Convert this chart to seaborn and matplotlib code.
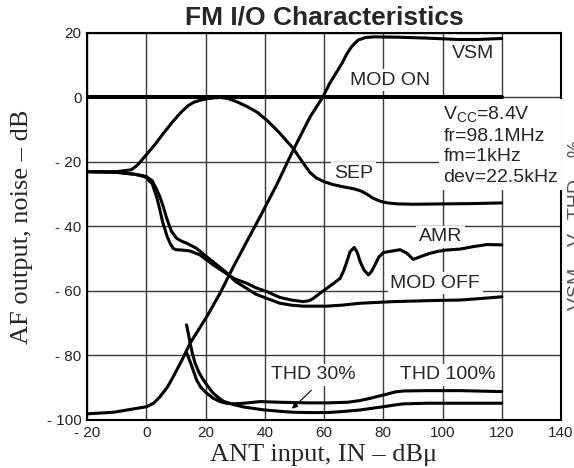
import matplotlib
matplotlib.use("Agg")
import matplotlib.pyplot as plt
import seaborn as sns

# values (x = ANT input dBu, y = dB)
mod_on_x = [-20, 120]
mod_on_y = [0, 0]

vsm_x = [-20, -11, 0, 2.5, 4.6, 7, 9.1, 12, 14.8, 20.4, 24.9, 29.4, 33.9, 38.4, 44, 49.6,
         55.3, 59.5, 62, 64, 66, 67.7, 69.5, 71.5, 74, 77, 85, 95, 105, 112, 120]
vsm_y = [-98.1, -97.6, -95.9, -94.8, -92.8, -90, -86.6, -81.5, -76.2, -68, -60.7, -52.5,
         -44.7, -37, -27.1, -16.3, -6, 0, 4.5, 7.5, 10.5, 13.5, 16, 17.8, 18.6, 18.8, 18.7,
         18.4, 18.0, 18.0, 18.3]

sep_x = [-20, -10, -5, -3, 0, 3, 5.8, 8.5, 11.4, 14, 16, 18, 20.5, 23, 25, 27.5, 30.5, 34,
         37.5, 41, 45, 49.6, 52.5, 55.3, 57.5, 60, 63, 66.5, 70, 72.5, 74.5, 76.5, 79, 81.5,
         85, 90, 100, 110, 120]
sep_y = [-23, -23, -22.4, -21, -17.8, -14.5, -11.1, -8, -4.9, -2.6, -1.5, -0.9, -0.4, -0.1,
         0, -0.3, -1.3, -2.8, -4.6, -7.3, -11, -15.8, -19.7, -23.3, -25, -26.1, -27, -27.7,
         -28.3, -29, -30, -31.2, -32.2, -32.7, -33, -33.1, -33, -32.9, -32.7]

amr_x = [-20, -10, -4, -2, 0, 2, 3.5, 4.5, 5.5, 7, 8.2, 9.1, 10, 12, 14.8, 18.1, 22.6, 27.2,
         30, 33.9, 37, 40.7, 45.1, 49, 53, 55, 56.4, 58.5, 60.9, 63, 65.4, 66.5, 67.5, 68.8,
         70.2, 71.2, 72.2, 73.5, 75, 76, 77.2, 78.5, 80, 83, 85.7, 88, 90.1, 93, 95.8, 98.5,
         101.4, 106, 110, 115, 120]
amr_y = [-23, -23.2, -23.8, -24.2, -24.8, -26.8, -30.8, -34.5, -38.5, -43, -45.5, -46.8,
         -47.2, -47.3, -47.6, -48.8, -51.9, -54.7, -56.3, -57.6, -59, -60.2, -62, -62.8,
         -63.3, -63, -62.3, -60.8, -59.2, -57.8, -56.1, -54, -51.5, -47.8, -46.5, -48, -50.9,
         -53.5, -55, -54, -51.9, -49.5, -48.1, -47.6, -47.2, -48.3, -50.2, -49.2, -48.3,
         -47.7, -47.3, -47, -46.3, -45.6, -45.7]

mod_off_x = [-20, -10, -4, -2, 0, 2, 3.5, 4.6, 5.8, 6.9, 8.5, 10.3, 12, 13.7, 17, 20.4, 24,
             27.2, 30, 33.9, 37, 40.7, 45.1, 49, 53, 60.9, 66, 72.2, 83.4, 95, 100, 106, 112,
             120]
mod_off_y = [-23, -23.2, -23.8, -24.1, -24.5, -25.8, -28.5, -30.8, -34, -37.5, -41.5, -43.7,
             -44.6, -45.2, -46.8, -49.4, -52, -54.4, -57, -59.2, -61, -62.3, -63.8, -64.4,
             -64.7, -64.7, -64.4, -63.8, -63.3, -63, -62.9, -62.8, -62.4, -61.8]

thd30_x = [13.6, 14.2, 14.8, 15.6, 16.5, 17.8, 19.3, 21, 22.6, 24.3, 26, 29.4, 33, 36.1, 40,
           45.1, 49.6, 55, 60.9, 66, 72.2, 76, 80, 83.5, 86.8, 95, 105.9, 120]
thd30_y = [-70.5, -73.2, -76.2, -79.5, -82.4, -85.3, -87.6, -89.8, -91.7, -93, -94.2, -95.2,
           -96, -96.4, -96.9, -97.3, -97.6, -97.7, -97.7, -97.4, -96.9, -96.4, -95.9, -95.4,
           -95, -94.8, -94.8, -94.8]

thd100_x = [13.6, 14.2, 14.8, 16, 17, 18.5, 20.4, 22.5, 24.9, 27, 29.4, 33, 38.4, 45, 55,
            60.9, 68, 72, 75.5, 78.5, 81.2, 84, 86.8, 95, 105.9, 120]
thd100_y = [-79.1, -80.5, -81.9, -85, -87.6, -90, -91.7, -93.2, -94.3, -94.8, -95, -94.8,
            -94.3, -94.5, -94.7, -94.7, -94.5, -94, -93.3, -92.6, -92, -91.3, -91, -90.9,
            -90.9, -91.2]

x_ticks = [-20, 0, 20, 40, 60, 80, 100, 120, 140]
x_tick_labels = ["- 20", "0", "20", "40", "60", "80", "100", "120", "140"]
y_ticks = [-100, -80, -60, -40, -20, 0, 20]
y_tick_labels = ["- 100", "- 80", "- 60", "- 40", "- 20", "0", "20"]

sns.set_style("white")
plt.rcParams['font.family'] = ['Liberation Sans', 'DejaVu Sans']
plt.rcParams['mathtext.fontset'] = 'custom'
plt.rcParams['mathtext.rm'] = 'Liberation Sans'

fig, ax = plt.subplots(figsize=(5.74, 4.68), dpi=100)
fig.subplots_adjust(left=0.1516, right=0.9774, top=0.9295, bottom=0.1026)

curves = [
    (vsm_x, vsm_y, 2.2),
    (sep_x, sep_y, 2.2),
    (amr_x, amr_y, 2.2),
    (mod_off_x, mod_off_y, 2.2),
    (thd30_x, thd30_y, 2.2),
    (thd100_x, thd100_y, 2.2),
    (mod_on_x, mod_on_y, 2.9),
]
for xs, ys, lw in curves:
    sns.lineplot(x=xs, y=ys, ax=ax, color="black", linewidth=lw, sort=False,
                 estimator=None, zorder=4)

ax.set_xlim(-20, 140)
ax.set_ylim(-100, 20)
ax.set_xticks(x_ticks)
ax.set_xticklabels(x_tick_labels)
ax.set_yticks(y_ticks)
ax.set_yticklabels(y_tick_labels)
ax.tick_params(length=0, labelsize=11, pad=4)
ax.grid(True, color="#3a3a3a", linewidth=1.0)
ax.set_axisbelow(True)
for s in ax.spines.values():
    s.set_color("black")
    s.set_linewidth(1.5)

ax.set_title("FM I/O Characteristics", fontsize=19, fontweight="bold", pad=6)
ax.set_xlabel("ANT input, IN – dBμ", fontsize=19, family="Liberation Serif")
ax.set_ylabel("AF output, noise – dB", fontsize=19, family="Liberation Serif")
ax.xaxis.set_label_coords(0.5, -0.062)
ax.yaxis.set_label_coords(-0.115, 0.5)

box = dict(facecolor="white", edgecolor="none", pad=2)
lab = dict(fontsize=14, ha="center", va="center", bbox=box, zorder=3)
ax.text(110.4, 13.7, "VSM", **lab)
ax.text(82.3, 5.4, "MOD ON", **lab)
ax.text(69.9, -23.5, "SEP", **lab)
ax.text(99.2, -43.2, "AMR", **lab)
ax.text(97.5, -57.6, "MOD OFF", **lab)
ax.text(56.4, -86, "THD 30%", **lab)
ax.text(101.7, -86, "THD 100%", **lab)
ax.text(100.3, -2.2, "V$_\\mathrm{CC}$=8.4V\nfr=98.1MHz\nfm=1kHz\ndev=22.5kHz",
        fontsize=14, ha="left", va="top", linespacing=1.25,
        bbox=dict(facecolor="white", edgecolor="none", pad=3), zorder=3)
ax.annotate("", xy=(48.5, -97.1), xytext=(56.4, -90.2),
            arrowprops=dict(arrowstyle="-|>", color="black", lw=0.8, mutation_scale=8),
            zorder=5)

# right-hand axis title, cut off by the figure edge in the original
fig.text(0.988, 0.52, "VSM – V,  THD – %", rotation=90, fontsize=14, color="#555555",
         ha="left", va="center")

fig.savefig("out.png", dpi=100)
